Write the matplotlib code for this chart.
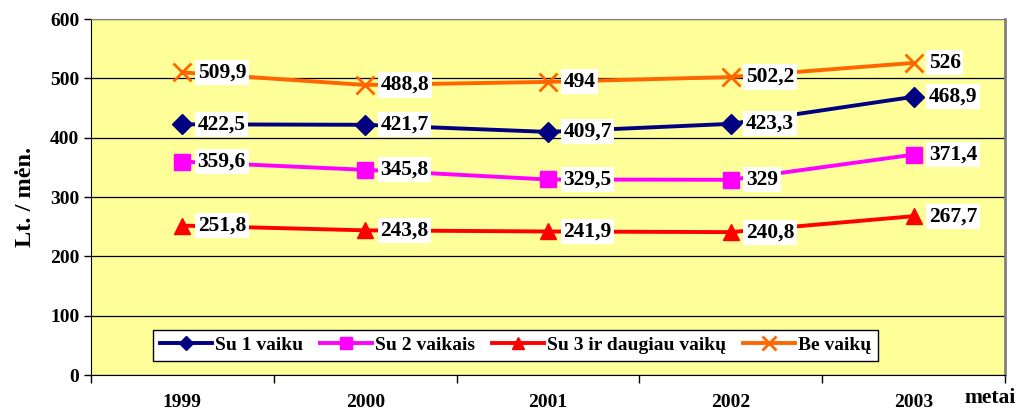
import numpy as np
import matplotlib.pyplot as plt

plt.rcParams['font.family'] = 'Liberation Serif'
plt.rcParams['font.weight'] = 'bold'

years = ['1999', '2000', '2001', '2002', '2003']
su1 = [422.5, 421.7, 409.7, 423.3, 468.9]
su2 = [359.6, 345.8, 329.5, 329, 371.4]
su3 = [251.8, 243.8, 241.9, 240.8, 267.7]
be = [509.9, 488.8, 494, 502.2, 526]

names = ['Su 1 vaiku', 'Su 2 vaikais', 'Su 3 ir daugiau vaikų', 'Be vaikų']
colors = ['#000080', '#FF00FF', '#FF0000', '#FF6600']
markers = ['D', 's', '^', 'x']
msizes = [10, 12, 12, 13]

fig = plt.figure(figsize=(10.16, 4.13), dpi=100)
ax = fig.add_axes([91 / 1016, 1 - 375 / 413, 914 / 1016, 356 / 413])
ax.set_facecolor('#FFFF99')

x = np.arange(len(years)) + 1
for vals, name, c, m, ms in zip([su1, su2, su3, be], names, colors, markers, msizes):
    ax.plot(x, vals, color=c, lw=2.8, marker=m, ms=ms, mew=2 if m == 'x' else 1,
            mec=c, mfc=c, label=name, zorder=3)
    for xi, v in zip(x, vals):
        ax.annotate(f'{v:g}'.replace('.', ','), (xi, v), xytext=(11, 0),
                    textcoords='offset points', va='center', ha='left',
                    fontsize=15.5, fontweight='bold',
                    bbox=dict(boxstyle='square,pad=0.12', fc='white', ec='none'),
                    zorder=4)

ax.set_xlim(0.5, 5.5)
ax.set_ylim(0, 600)
ax.set_yticks(range(0, 601, 100))
ax.yaxis.grid(True, color='black', lw=0.9)
ax.set_axisbelow(True)
ax.tick_params(axis='y', labelsize=14, length=5, direction='out', width=1)

ax.set_xticks(np.arange(0.5, 5.6, 1))
ax.set_xticklabels([])
ax.set_xticks(x, minor=True)
ax.set_xticklabels(years, minor=True)
ax.tick_params(axis='x', which='major', length=6, direction='out', width=1)
ax.tick_params(axis='x', which='minor', length=0, labelsize=14, pad=14)

for s in ['left', 'bottom']:
    ax.spines[s].set_color('black')
ax.spines['top'].set_color('#808080')
ax.spines['right'].set_color('#808080')
ax.spines['right'].set_linewidth(2)

ax.set_ylabel('Lt. / mėn.', fontsize=17.5, fontweight='bold', labelpad=10)
fig.text(990 / 1016, 1 - 398 / 413, 'metai', fontsize=15.5, fontweight='bold',
         ha='center', va='center')

leg = ax.legend(loc='lower left', bbox_to_anchor=(62 / 914, 14 / 356), ncol=4,
                frameon=True, fancybox=False, edgecolor='black', framealpha=1,
                fontsize=14, handlelength=2.7, handletextpad=0.15, columnspacing=0.85,
                borderpad=0.35, borderaxespad=0, markerscale=0.75)
leg.get_frame().set_linewidth(1)

fig.savefig('out.png', dpi=100)
